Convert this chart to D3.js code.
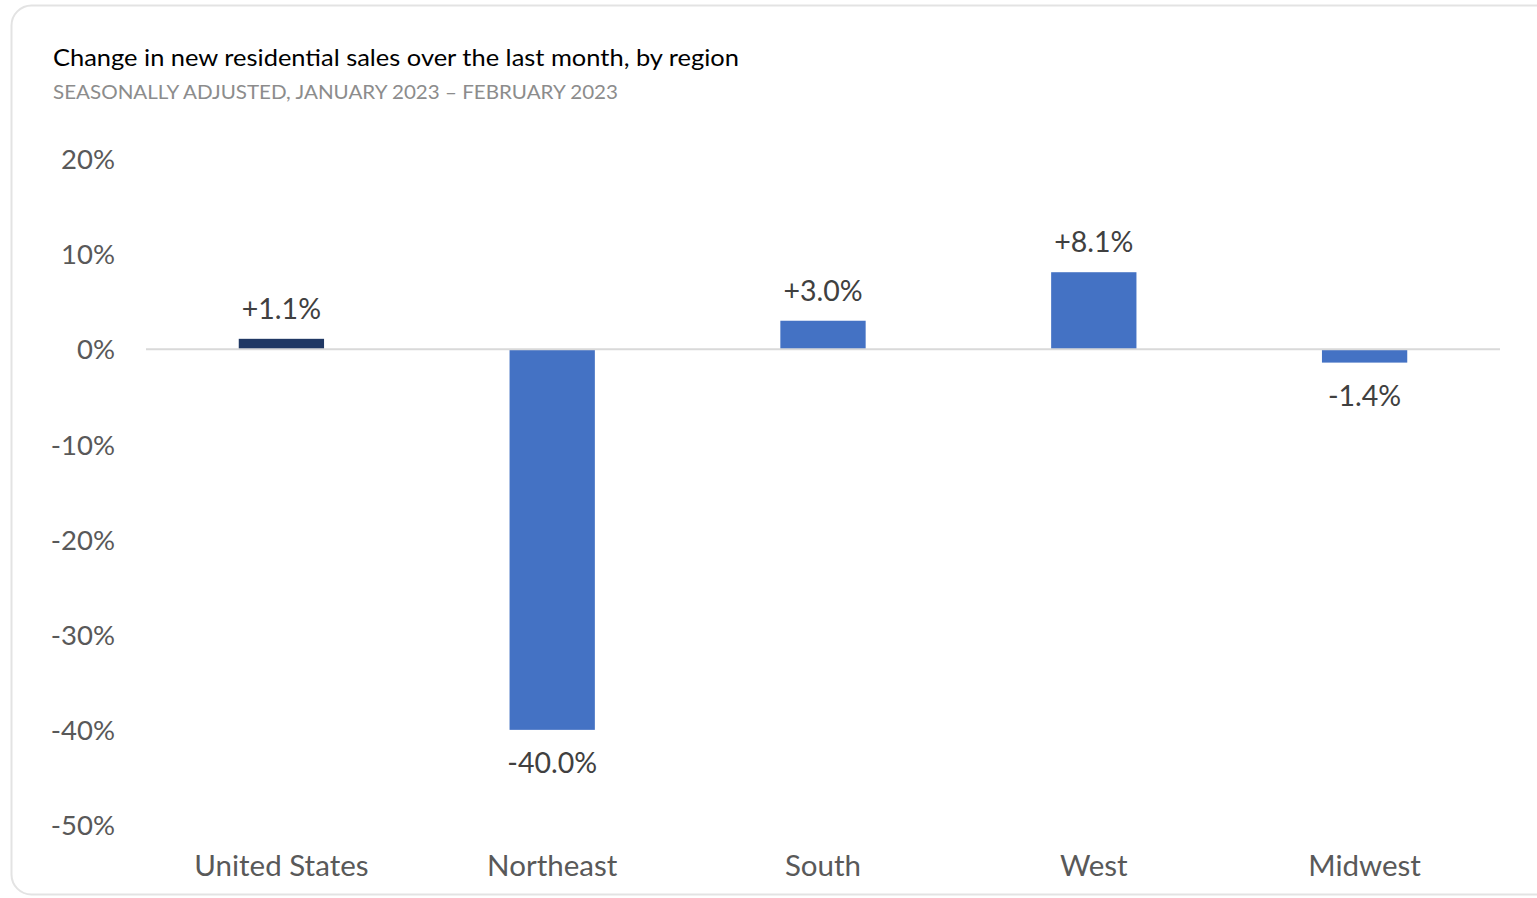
<!DOCTYPE html>
<html><head><meta charset="utf-8">
<script src="https://cdn.jsdelivr.net/npm/d3@7"></script>
<style>
html,body{margin:0;padding:0;background:#fff;}
svg{display:block;}
</style></head>
<body>
<svg id="chart" width="1537" height="898"></svg>
<script>
const categories = ["United States","Northeast","South","West","Midwest"];
const values = [1.1, -40.0, 3.0, 8.1, -1.4];
const valueLabels = ["+1.1%","-40.0%","+3.0%","+8.1%","-1.4%"];
const yTicks = [20,10,0,-10,-20,-30,-40,-50];
const titleText = "Change in new residential sales over the last month, by region";
const subtitleText = "SEASONALLY ADJUSTED, JANUARY 2023 \u2013 FEBRUARY 2023";

const svg = d3.select("#chart");
const font = "Lato, 'Open Sans', sans-serif";

svg.append("rect").attr("x",11.5).attr("y",5.5).attr("width",1600).attr("height",889)
  .attr("rx",20).attr("fill","#fff").attr("stroke","#e3e3e3").attr("stroke-width",2);

svg.append("text").attr("x",53).attr("y",66).text(titleText)
  .attr("font-family",font).attr("font-size",24).attr("fill","#000")
  .attr("textLength",686).attr("lengthAdjust","spacingAndGlyphs");
svg.append("text").attr("x",53).attr("y",99).text(subtitleText)
  .attr("font-family",font).attr("font-size",20).attr("fill","#8c8c8c")
  .attr("textLength",565).attr("lengthAdjust","spacingAndGlyphs");

const x = d3.scaleBand().domain(categories).range([146,1500]).paddingInner(0).paddingOuter(0);
const y = d3.scaleLinear().domain([-50,20]).range([825,159]);
const barW = x.bandwidth()*0.315;

// y axis labels
const yAxis = d3.axisLeft(y).tickValues(yTicks).tickSize(0).tickPadding(0).tickFormat(d=>d+"%");
const ya = svg.append("g").attr("transform","translate(115,0)").call(yAxis);
ya.select(".domain").remove();
ya.selectAll("text").attr("font-family",font).attr("font-size",27.5).attr("fill","#595959").attr("dy","0.35em");

// bars
svg.selectAll("rect.bar").data(values).join("rect").attr("class","bar")
  .attr("x",(d,i)=>x(categories[i])+x.bandwidth()/2-barW/2)
  .attr("width",barW)
  .attr("y",d=>y(Math.max(0,d)))
  .attr("height",d=>Math.abs(y(d)-y(0)))
  .attr("fill",(d,i)=>i===0?"#203864":"#4472C4");

// zero line
svg.append("line").attr("x1",146).attr("x2",1500).attr("y1",y(0)).attr("y2",y(0))
  .attr("stroke","#d9d9d9").attr("stroke-width",2);

// value labels
svg.selectAll("text.vl").data(values).join("text").attr("class","vl")
  .attr("x",(d,i)=>x(categories[i])+x.bandwidth()/2)
  .attr("y",d=>d>=0? y(d)-20 : y(d)+43)
  .attr("text-anchor","middle").text((d,i)=>valueLabels[i])
  .attr("font-family",font).attr("font-size",28.5).attr("fill","#404040");

// x axis labels
const xAxis = d3.axisBottom(x).tickSize(0).tickPadding(0);
const xa = svg.append("g").attr("transform","translate(0,866)").call(xAxis);
xa.select(".domain").remove();
xa.selectAll("text").attr("font-family",font).attr("font-size",29.5).attr("fill","#595959").attr("dy","0.35em");
</script>
</body></html>
